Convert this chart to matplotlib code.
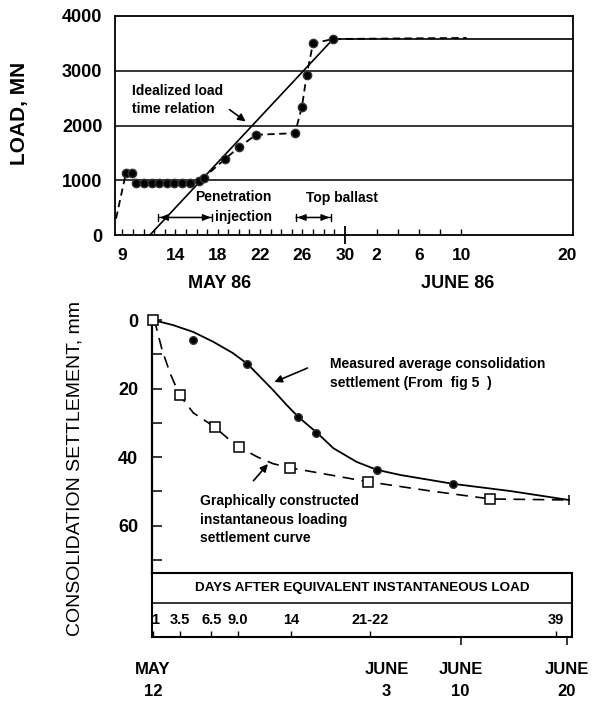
import matplotlib
matplotlib.use("Agg")
import matplotlib.pyplot as plt
from matplotlib.transforms import blended_transform_factory as btf

plt.rcParams['font.family'] = ['Liberation Sans', 'DejaVu Sans']

# ---------------- top chart data (x = day number, May 1 = 1, June d = 31 + d)
ideal_day = [11.6, 28.9, 51.55]
ideal_load = [0, 3580, 3580]
meas_day = [9.33, 9.90, 10.28, 11.03, 11.79, 12.45, 13.21, 13.87, 14.62, 15.38,
            16.23, 16.7, 18.7, 20.0, 21.6, 25.3, 25.95, 26.4, 27.0, 28.9]
meas_load = [1130, 1130, 950, 950, 950, 950, 950, 950, 950, 950,
             990, 1050, 1390, 1600, 1830, 1860, 2340, 2920, 3500, 3580]
meas_line_start = [8.4, 300]
meas_line_end = [41.5, 3600]
grid_levels = [1000, 2000, 3000]
load_ticks = [0, 1000, 2000, 3000, 4000]
xtick_days = [9, 14, 18, 22, 26, 30, 33, 37, 41, 51]
xtick_labels = ['9', '14', '18', '22', '26', '30', '2', '6', '10', '20']
minor_days = list(range(9, 30)) + [33, 35, 37, 39, 41]

# ---------------- bottom chart data (x = days since May 12)
meas_pts_day = [3.8, 8.9, 13.7, 15.4, 21.1, 28.3]
meas_pts_mm = [5.8, 12.8, 28.3, 33.0, 43.7, 47.8]
meas_curve_day = [0, 1.9, 3.8, 5.7, 7.5, 8.9, 10.1, 11.3, 12.6, 13.7, 15.5, 17.0,
                  19.2, 21.1, 23.3, 28.3, 33.7, 39.2]
meas_curve_mm = [0, 1.5, 3.5, 6.4, 9.6, 12.8, 16.6, 20.4, 24.8, 28.3, 33.0, 37.4,
                 41.4, 43.7, 45.2, 47.8, 49.9, 52.5]
inst_sq_day = [0, 2.5, 5.8, 8.1, 12.9, 20.3, 31.8]
inst_sq_mm = [0, 21.9, 31.2, 37.0, 43.1, 47.2, 52.2]
inst_curve_day = [0, 0.2, 0.85, 1.6, 2.5, 3.8, 5.8, 7.0, 8.1, 9.8, 11.3, 12.9,
                  20.3, 26, 31.8, 39.2]
inst_curve_mm = [0, 0.9, 8.7, 15.5, 21.9, 27.1, 31.2, 34.4, 37.0, 39.9, 41.9, 43.1,
                 47.2, 49.8, 52.2, 52.5]
settle_ticks = [0, 20, 40, 60]
settle_minor = [10, 30, 50, 70]
days_after_vals = [1, 3.5, 6.5, 9.0, 14, 21.5, 39]
days_after_labels = ['1', '3.5', '6.5', '9.0', '14', '21-22', '39']
date_days = [0, 22, 29, 39]
date_labels = ['MAY\n12', 'JUNE\n3', 'JUNE\n10', 'JUNE\n20']
date_ticked = [29, 39]

K = 'black'
fig = plt.figure(figsize=(5.97, 7.01), dpi=100)
W, H = 597.0, 701.0

def box(l, t, r, b):
    return [l / W, 1 - b / H, (r - l) / W, (b - t) / H]

# ================= TOP =================
ax1 = fig.add_axes(box(115, 16, 573, 235))
ax1.set_xlim(8.3, 51.55)
ax1.set_ylim(0, 4000)
for s in ax1.spines.values():
    s.set_linewidth(1.3)
for g in grid_levels:
    ax1.axhline(g, color=K, lw=1.1, zorder=1)
ax1.plot(ideal_day, ideal_load, color=K, lw=1.2, zorder=2)
ax1.plot([meas_line_start[0]] + meas_day + [meas_line_end[0]],
         [meas_line_start[1]] + meas_load + [meas_line_end[1]],
         color=K, lw=1.3, dashes=(4, 2.5), zorder=3)
ax1.plot(meas_day, meas_load, 'o', color=K, ms=6, mec='#333333', zorder=4)

ax1.set_yticks(load_ticks)
ax1.set_yticklabels([str(v) for v in load_ticks])
ax1.tick_params(axis='y', length=0, pad=9, labelsize=13)
ax1.set_xticks(xtick_days)
ax1.set_xticklabels(xtick_labels)
ax1.set_xticks(minor_days, minor=True)
ax1.xaxis.remove_overlapping_locs = False
ax1.tick_params(axis='x', which='major', direction='inout', length=13, width=1.3, pad=3, labelsize=12.5)
ax1.tick_params(axis='x', which='minor', direction='in', length=4, width=1)
for t, d in zip(ax1.xaxis.get_major_ticks(), xtick_days):
    if d != 30:
        t.tick1line.set_visible(False)
for lab in ax1.get_xticklabels() + ax1.get_yticklabels():
    lab.set_fontweight('bold')

tb1 = btf(ax1.transData, ax1.transAxes)
ax1.text(18.2, -0.22, 'MAY 86', transform=tb1, ha='center', va='center',
         fontsize=13, fontweight='bold')
ax1.text(40.7, -0.22, 'JUNE 86', transform=tb1, ha='center', va='center',
         fontsize=13, fontweight='bold')

ann_kw = dict(fontsize=10, fontweight='bold')
ax1.text(9.9, 2630, 'Idealized load', ha='left', va='center', **ann_kw)
ax1.text(9.9, 2310, 'time relation', ha='left', va='center', **ann_kw)
ax1.annotate('', xy=(20.85, 2045), xytext=(18.9, 2320),
             arrowprops=dict(arrowstyle='-|>', color=K, lw=1.2, mutation_scale=11))
ax1.text(19.45, 694, 'Penetration', ha='center', va='center', **ann_kw)
ax1.text(17.75, 320, 'injection', ha='left', va='center', **ann_kw)
ax1.text(29.7, 676, 'Top ballast', ha='center', va='center', **ann_kw)
for a, b in [(12.4, 17.5), (25.4, 28.7)]:
    ax1.annotate('', xy=(b, 320), xytext=(a, 320),
                 arrowprops=dict(arrowstyle='|-|,widthA=0.25,widthB=0.25', color=K, lw=1.0,
                                 shrinkA=0, shrinkB=0))
    ax1.annotate('', xy=(b, 320), xytext=(a, 320),
                 arrowprops=dict(arrowstyle='<|-|>,head_length=0.5,head_width=0.2', color=K, lw=0.9,
                                 shrinkA=1, shrinkB=1))

fig.text(20 / W, 1 - 113 / H, 'LOAD, MN', rotation=90, ha='center', va='center',
         fontsize=15, fontweight='bold')

# ================= BOTTOM =================
ax2 = fig.add_axes(box(152, 320, 572, 573))
ax2.set_xlim(-0.1, 39.5)
ax2.set_ylim(73.8, 0)
for side in ['top', 'right', 'bottom']:
    ax2.spines[side].set_visible(False)
ax2.spines['left'].set_linewidth(1.6)
ax2.plot(meas_curve_day, meas_curve_mm, color=K, lw=1.3, clip_on=False)
ax2.plot(inst_curve_day, inst_curve_mm, color=K, lw=1.2, dashes=(7, 4.5), clip_on=False)
ax2.plot(meas_pts_day, meas_pts_mm, 'o', color=K, ms=5.5, mec='#333333', clip_on=False, zorder=4)
ax2.plot(inst_sq_day, inst_sq_mm, 's', mfc='white', mec=K, ms=7.5, mew=1.1, clip_on=False, zorder=5)
ax2.plot([meas_curve_day[-1]], [meas_curve_mm[-1]], '|', color=K, ms=7, mew=1.1, clip_on=False)

ax2.set_xticks([])
ax2.set_yticks(settle_ticks)
ax2.set_yticklabels([str(v) for v in settle_ticks])
ax2.set_yticks(settle_minor, minor=True)
ax2.tick_params(axis='y', which='both', direction='in', length=7, width=1.1, pad=10, labelsize=13)
for lab in ax2.get_yticklabels():
    lab.set_fontweight('bold')

ax2.text(16.7, 12.8, 'Measured average consolidation', ha='left', va='center', **ann_kw)
ax2.text(16.7, 18.4, 'settlement (From  fig 5  )', ha='left', va='center', **ann_kw)
ax2.annotate('', xy=(11.2, 18.4), xytext=(14.8, 13.7),
             arrowprops=dict(arrowstyle='-|>', color=K, lw=1.2, mutation_scale=11))
ax2.text(4.4, 52.8, 'Graphically constructed', ha='left', va='center', **ann_kw)
ax2.text(4.4, 58.3, 'instantaneous loading', ha='left', va='center', **ann_kw)
ax2.text(4.4, 63.6, 'settlement curve', ha='left', va='center', **ann_kw)
ax2.annotate('', xy=(11.0, 41.4), xytext=(9.3, 47.5),
             arrowprops=dict(arrowstyle='-|>', color=K, lw=1.2, mutation_scale=11))

fig.text(75 / W, 1 - 468 / H, 'CONSOLIDATION SETTLEMENT, mm', rotation=90, ha='center',
         va='center', fontsize=14)

# ---------- table strip
axt = fig.add_axes(box(152, 573, 572, 637))
axt.set_xlim(-0.1, 39.5)
axt.set_ylim(0, 1)
for s in axt.spines.values():
    s.set_linewidth(1.5)
axt.axhline(0.53, color=K, lw=1.1)
axt.set_yticks([])
axt.text(0.5, 0.76, 'DAYS AFTER EQUIVALENT INSTANTANEOUS LOAD', transform=axt.transAxes,
         ha='center', va='center', fontsize=9.7, fontweight='bold')
pos_after = [v - 1 for v in days_after_vals]
tbt = btf(axt.transData, axt.transAxes)
for p, lab in zip(pos_after, days_after_labels):
    axt.text(p + (0.2 if p == 0 else 0), 0.27, lab, transform=tbt, ha='center', va='center',
             fontsize=10.5, fontweight='bold')
axt.set_xticks(pos_after, minor=True)
axt.set_xticks(date_days)
axt.set_xticklabels(date_labels, linespacing=1.55)
axt.xaxis.remove_overlapping_locs = False
axt.tick_params(axis='x', which='minor', direction='in', length=4, width=1)
axt.tick_params(axis='x', which='major', direction='out', length=6, width=1.1, pad=12, labelsize=12)
for t, d in zip(axt.xaxis.get_major_ticks(), date_days):
    if d not in date_ticked:
        t.tick1line.set_visible(False)
for lab in axt.get_xticklabels():
    lab.set_fontweight('bold')

fig.savefig('out.png', dpi=100)
